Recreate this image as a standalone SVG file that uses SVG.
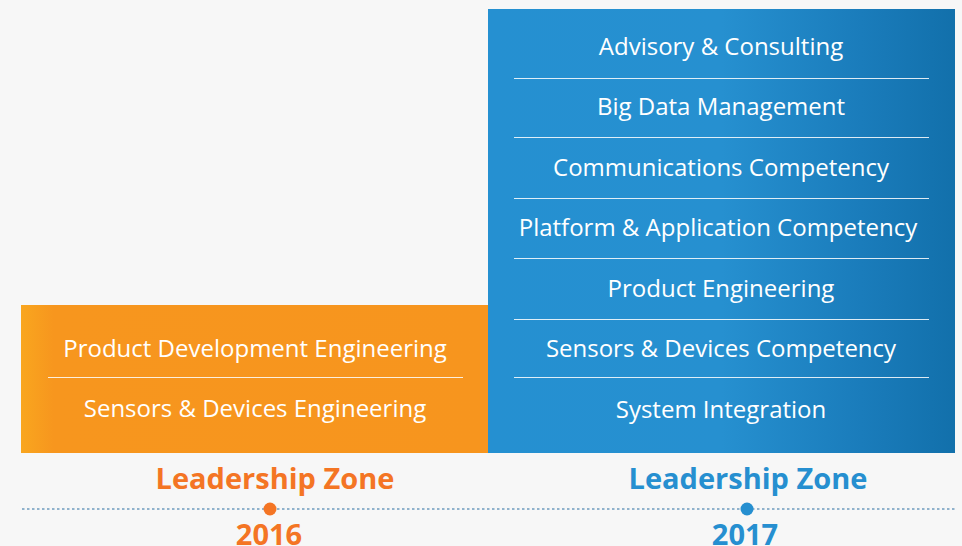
<svg xmlns="http://www.w3.org/2000/svg" width="962" height="546" viewBox="0 0 962 546">
  <defs>
    <linearGradient id="gBlue" x1="0" y1="0" x2="1" y2="0">
      <stop offset="0" stop-color="#2590d1"/>
      <stop offset="0.5" stop-color="#2690d0"/>
      <stop offset="0.8" stop-color="#1a7cbb"/>
      <stop offset="1" stop-color="#1270ab"/>
    </linearGradient>
    <linearGradient id="gOrange" x1="0" y1="0" x2="1" y2="0">
      <stop offset="0" stop-color="#f9a61f"/>
      <stop offset="0.07" stop-color="#f7961e"/>
      <stop offset="1" stop-color="#f7951e"/>
    </linearGradient>
    <style>
      .item { font-family: "Open Sans", "Liberation Sans", sans-serif; font-size: 24px; fill: #ffffff; text-anchor: middle; }
      .sep { stroke: #ffffff; stroke-width: 1.2; opacity: 0.85; }
      .zone { font-family: "Open Sans", "Liberation Sans", sans-serif; font-size: 29px; font-weight: bold; text-anchor: middle; }
      .orange { fill: #f47524; }
      .blue { fill: #268fd0; }
      .axis { stroke: #6f9cbf; stroke-width: 1.6; stroke-dasharray: 2.5 2.5; }
    </style>
  </defs>
  <rect width="962" height="546" fill="#f7f7f7"/>

  <!-- 2016 block -->
  <g id="block-2016">
    <rect x="21" y="305" width="468" height="148" fill="url(#gOrange)"/>
    <text class="item" x="255" y="357">Product Development Engineering</text>
    <line class="sep" x1="48" y1="377.5" x2="463" y2="377.5"/>
    <text class="item" x="255" y="417">Sensors &amp; Devices Engineering</text>
  </g>

  <!-- 2017 block -->
  <g id="block-2017">
    <rect x="488" y="9" width="467" height="444" fill="url(#gBlue)"/>
    <text class="item" x="721" y="55">Advisory &amp; Consulting</text>
    <line class="sep" x1="514" y1="78.5" x2="929" y2="78.5"/>
    <text class="item" x="721" y="115">Big Data Management</text>
    <line class="sep" x1="514" y1="137.5" x2="929" y2="137.5"/>
    <text class="item" x="721" y="176">Communications Competency</text>
    <line class="sep" x1="514" y1="198.5" x2="929" y2="198.5"/>
    <text class="item" x="718" y="236">Platform &amp; Application Competency</text>
    <line class="sep" x1="514" y1="258.5" x2="929" y2="258.5"/>
    <text class="item" x="721" y="297">Product Engineering</text>
    <line class="sep" x1="514" y1="319.5" x2="929" y2="319.5"/>
    <text class="item" x="721" y="357">Sensors &amp; Devices Competency</text>
    <line class="sep" x1="514" y1="377.5" x2="929" y2="377.5"/>
    <text class="item" x="721" y="418">System Integration</text>
  </g>

  <!-- timeline -->
  <g id="timeline">
    <line class="axis" x1="22" y1="509" x2="956" y2="509"/>
  </g>

  <g id="zone-2016">
    <text class="zone orange" x="275" y="489">Leadership Zone</text>
    <circle cx="270" cy="509" r="6.5" fill="#f47524"/>
    <text class="zone orange" x="269" y="545">2016</text>
  </g>

  <g id="zone-2017">
    <text class="zone blue" x="748" y="489">Leadership Zone</text>
    <circle cx="747" cy="509" r="6.5" fill="#268fd0"/>
    <text class="zone blue" x="745" y="545">2017</text>
  </g>
</svg>
